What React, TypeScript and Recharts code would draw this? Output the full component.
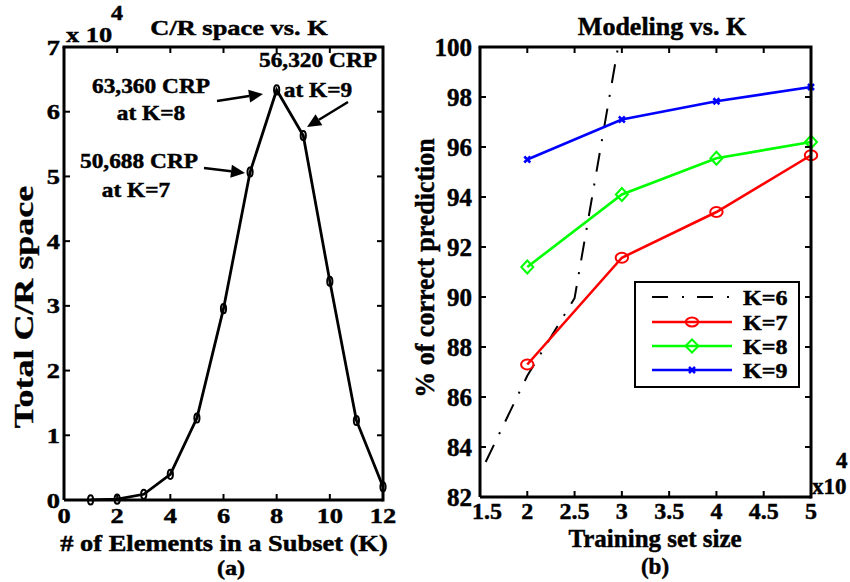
import React from 'react';
import { LineChart, Line, XAxis, YAxis } from 'recharts';

const FONT = 'Liberation Serif, Times New Roman, serif';

// ---- Panel (a): C/R space vs. K (values in units of 10^4)
const subsetSizes = [1, 2, 3, 4, 5, 6, 7, 8, 9, 10, 11, 12];
const crSpace = [0.0012, 0.0132, 0.088, 0.396, 1.2672, 2.9568, 5.0688, 6.336, 5.632, 3.3792, 1.2288, 0.2048];
const aXTicks = [0, 2, 4, 6, 8, 10, 12];
const aYTicks = [0, 1, 2, 3, 4, 5, 6, 7];

// ---- Panel (b): Modeling vs. K (training size in units of 10^4)
const trainingSizes = [2, 3, 4, 5];
const accK7 = [87.3, 91.57, 93.4, 95.67];
const accK8 = [91.2, 94.1, 95.55, 96.2];
const accK9 = [95.5, 97.1, 97.83, 98.4];
const k6Sizes = [1.56, 2, 2.5, 2.96];
const accK6 = [83.4, 86.85, 89.95, 100];
const bXTicks = [1.5, 2, 2.5, 3, 3.5, 4, 4.5, 5];
const bYTicks = [82, 84, 86, 88, 90, 92, 94, 96, 98, 100];

const aData = subsetSizes.map((k, i) => ({ x: k, y: crSpace[i] }));
const k6Data = k6Sizes.map((s, i) => ({ x: s, y: accK6[i] }));
const k7Data = trainingSizes.map((s, i) => ({ x: s, y: accK7[i] }));
const k8Data = trainingSizes.map((s, i) => ({ x: s, y: accK8[i] }));
const k9Data = trainingSizes.map((s, i) => ({ x: s, y: accK9[i] }));

// plot-box layout (page pixels); the charts' margins are derived from these
const PA = { left: 64, right: 383, top: 47, bottom: 500, w: 420, x0: 0, xd: [0, 12], yd: [0, 7] };
const PB = { left: 480, right: 811, top: 47, bottom: 497, w: 430, x0: 420, xd: [1.5, 5], yd: [82, 100] };
const YAXIS_W = 40;
const XAXIS_H = 30;
const TICK = 6;
const SXA = 1.2;

const marginOf = (p: any) => ({
  top: p.top,
  right: p.x0 + p.w - p.right,
  bottom: 582 - p.bottom - XAXIS_H,
  left: p.left - p.x0 - YAXIS_W,
});

function SText({ x, y, size, sx = 1, anchor = 'middle', rotate = 0, children }: any) {
  const tr = `translate(${x},${y}) scale(${sx},1)` + (rotate ? ` rotate(${rotate})` : '');
  return (
    <text transform={tr} textAnchor={anchor} stroke="#000" strokeWidth={0.45}
      style={{ fontFamily: FONT, fontWeight: 700, fontSize: size }} fill="#000">
      {children}
    </text>
  );
}

const tl = { stroke: '#000', strokeWidth: 2 };

const AXTick = (p: any) => (
  <SText x={p.x} y={p.y + 29} size={22} sx={SXA}>{String(p.payload.value)}</SText>
);
const AYTick = (p: any) => (
  <SText x={p.x - 10} y={p.y + 7.5} size={22} sx={SXA} anchor="end">{String(p.payload.value)}</SText>
);
const BXTick = (p: any) => (
  <SText x={p.x + (p.index === 0 ? 7 : 0)} y={p.y + 28} size={24}>{String(p.payload.value)}</SText>
);
const BYTick = (p: any) => (
  <SText x={p.x - 14} y={p.y + 8.5} size={25} anchor="end">{String(p.payload.value)}</SText>
);

// Mirror box (top / right edges with inward ticks), as in a MATLAB "box on" axes
function MirrorBox({ p, xt, yt }: any) {
  const sx = (v: number) => p.left + ((v - p.xd[0]) / (p.xd[1] - p.xd[0])) * (p.right - p.left);
  const sy = (v: number) => p.bottom - ((v - p.yd[0]) / (p.yd[1] - p.yd[0])) * (p.bottom - p.top);
  return (
    <g>
      <path d={`M${p.left - 1.5},${p.top}H${p.right}V${p.bottom + 1.5}`} fill="none" stroke="#000" strokeWidth={3} />
      {xt.slice(1, -1).map((v: number) => (
        <line key={`tx${v}`} x1={sx(v)} x2={sx(v)} y1={p.top} y2={p.top + TICK} {...tl} />
      ))}
      {yt.slice(1, -1).map((v: number) => (
        <line key={`ty${v}`} x1={p.right} x2={p.right - TICK} y1={sy(v)} y2={sy(v)} {...tl} />
      ))}
    </g>
  );
}

const OvalDot = (p: any) => (
  <ellipse key={`o${p.index}`} cx={p.cx} cy={p.cy} rx={2.6} ry={4.6} fill="none" stroke="#000" strokeWidth={2} />
);
const RedDot = (p: any) => (
  <ellipse key={`r${p.index}`} cx={p.cx} cy={p.cy} rx={6.2} ry={5} fill="none" stroke="#ff0000" strokeWidth={2} />
);
const GreenDot = (p: any) => (
  <path key={`g${p.index}`} d={`M${p.cx},${p.cy - 6.5}L${p.cx + 6},${p.cy}L${p.cx},${p.cy + 6.5}L${p.cx - 6},${p.cy}Z`} fill="none" stroke="#00ff00" strokeWidth={2} />
);
const BlueDot = (p: any) => (
  <path key={`b${p.index}`} d={`M${p.cx - 3},${p.cy - 3}L${p.cx + 3},${p.cy + 3}M${p.cx - 3},${p.cy + 3}L${p.cx + 3},${p.cy - 3}`} fill="none" stroke="#0000ff" strokeWidth={2.5} />
);

const axisLine = { stroke: '#000', strokeWidth: 3 };

function Arrow({ x1, y1, x2, y2 }: any) {
  const dx = x2 - x1, dy = y2 - y1;
  const len = Math.sqrt(dx * dx + dy * dy);
  const ux = dx / len, uy = dy / len;
  const hl = 14, hw = 6.5;
  const bx = x2 - ux * hl, by = y2 - uy * hl;
  const pts = `${x2},${y2} ${bx - uy * hw},${by + ux * hw} ${bx + uy * hw},${by - ux * hw}`;
  return (
    <g>
      <line x1={x1} y1={y1} x2={bx} y2={by} stroke="#000" strokeWidth={2.5} />
      <polygon points={pts} fill="#000" />
    </g>
  );
}

const legendItems = [
  { label: 'K=6', color: '#000', dash: '16 14 2 13', marker: 'none' },
  { label: 'K=7', color: '#ff0000', dash: undefined, marker: 'circle' },
  { label: 'K=8', color: '#00ff00', dash: undefined, marker: 'diamond' },
  { label: 'K=9', color: '#0000ff', dash: undefined, marker: 'x' },
];
const legendYs = [297, 322, 346, 370];

export default function App() {
  return (
    <div style={{ position: 'absolute', left: 0, top: 0, width: 850, height: 582, background: '#fff' }}>
      <div style={{ position: 'absolute', left: PA.x0, top: 0 }}>
        <LineChart width={PA.w} height={582} data={aData} margin={marginOf(PA)}>
          <XAxis dataKey="x" type="number" domain={PA.xd} ticks={aXTicks} interval={0} height={XAXIS_H}
            axisLine={axisLine} tickLine={tl} tickSize={-TICK} tickMargin={0} tick={AXTick} />
          <YAxis type="number" domain={PA.yd} ticks={aYTicks} interval={0} width={YAXIS_W}
            axisLine={axisLine} tickLine={tl} tickSize={-TICK} tickMargin={0} tick={AYTick} />
          <Line dataKey="y" stroke="#000" strokeWidth={2.8} dot={OvalDot} activeDot={false} isAnimationActive={false} />
        </LineChart>
      </div>
      <div style={{ position: 'absolute', left: PB.x0, top: 0 }}>
        <LineChart width={PB.w} height={582} margin={marginOf(PB)}>
          <XAxis dataKey="x" type="number" domain={PB.xd} ticks={bXTicks} interval={0} height={XAXIS_H}
            axisLine={axisLine} tickLine={tl} tickSize={-TICK} tickMargin={0} tick={BXTick} />
          <YAxis type="number" domain={PB.yd} ticks={bYTicks} interval={0} width={YAXIS_W}
            axisLine={axisLine} tickLine={tl} tickSize={-TICK} tickMargin={0} tick={BYTick} />
          <Line data={k6Data} dataKey="y" stroke="#000" strokeWidth={2} strokeDasharray="19 12 2 12" dot={false} activeDot={false} isAnimationActive={false} />
          <Line data={k7Data} dataKey="y" stroke="#ff0000" strokeWidth={2.6} dot={RedDot} activeDot={false} isAnimationActive={false} />
          <Line data={k8Data} dataKey="y" stroke="#00ff00" strokeWidth={2.6} dot={GreenDot} activeDot={false} isAnimationActive={false} />
          <Line data={k9Data} dataKey="y" stroke="#0000ff" strokeWidth={2.6} dot={BlueDot} activeDot={false} isAnimationActive={false} />
        </LineChart>
      </div>
      <svg width={850} height={582} style={{ position: 'absolute', left: 0, top: 0, pointerEvents: 'none' }}>
        <MirrorBox p={PA} xt={aXTicks} yt={aYTicks} />
        <MirrorBox p={PB} xt={bXTicks} yt={bYTicks} />
        {/* Panel (a) texts */}
        <SText x={239} y={35} size={22} sx={SXA}>C/R space vs. K</SText>
        <SText x={66} y={42} size={22} sx={SXA} anchor="start">x 10</SText>
        <SText x={111} y={20} size={20} sx={SXA} anchor="start">4</SText>
        <SText x={33} y={307} size={36} sx={0.75} rotate={-90}>Total C/R space</SText>
        <SText x={224} y={551} size={23} sx={1.15}># of Elements in a Subset (K)</SText>
        <SText x={231} y={575} size={21} sx={1.15}>(a)</SText>
        <SText x={151} y={93} size={20.5} sx={1.14}>63,360 CRP</SText>
        <SText x={151} y={120} size={20.5} sx={1.14}>at K=8</SText>
        <SText x={318} y={67} size={20.5} sx={1.14}>56,320 CRP</SText>
        <SText x={318} y={97} size={20.5} sx={1.14}>at K=9</SText>
        <SText x={139} y={168} size={20.5} sx={1.14}>50,688 CRP</SText>
        <SText x={136} y={197} size={20.5} sx={1.14}>at K=7</SText>
        <Arrow x1={217} y1={101} x2={263} y2={94} />
        <Arrow x1={348} y1={102} x2={307} y2={127} />
        <Arrow x1={204} y1={168} x2={245} y2={173} />
        {/* Panel (b) texts */}
        <SText x={662} y={35} size={26}>Modeling vs. K</SText>
        <SText x={434} y={268} size={26} sx={1.05} rotate={-90}>% of correct prediction</SText>
        <SText x={655} y={547} size={25}>Training set size</SText>
        <SText x={655} y={574} size={23}>(b)</SText>
        <SText x={812} y={494} size={23} anchor="start">x10</SText>
        <SText x={836} y={468} size={23} anchor="start">4</SText>
        {/* Legend */}
        <rect x={635} y={282} width={164} height={105} fill="#fff" stroke="#000" strokeWidth={2} />
        {legendItems.map((it, i) => {
          const y = legendYs[i];
          return (
            <g key={it.label}>
              <line x1={652} y1={y} x2={732} y2={y} stroke={it.color} strokeWidth={it.dash ? 2 : 2.6} strokeDasharray={it.dash} />
              {it.marker === 'circle' && <ellipse cx={692} cy={y} rx={6.2} ry={4.5} fill="none" stroke={it.color} strokeWidth={2} />}
              {it.marker === 'diamond' && <path d={`M692,${y - 6.5}L698.5,${y}L692,${y + 6.5}L685.5,${y}Z`} fill="none" stroke={it.color} strokeWidth={2} />}
              {it.marker === 'x' && <path d={`M689,${y - 3}L695,${y + 3}M689,${y + 3}L695,${y - 3}`} stroke={it.color} strokeWidth={2.5} />}
              <SText x={743} y={y + 8} size={21.5} sx={1.12} anchor="start">{it.label}</SText>
            </g>
          );
        })}
      </svg>
    </div>
  );
}
